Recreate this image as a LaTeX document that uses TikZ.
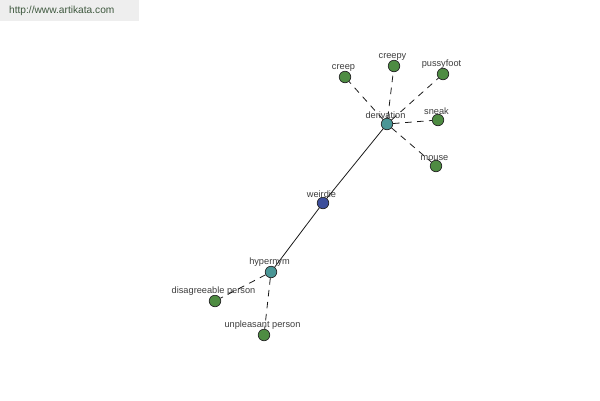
\documentclass[tikz,border=0pt]{standalone}
\usepackage{fontspec}
\setmainfont{Liberation Sans}
\usetikzlibrary{positioning}
\definecolor{leafgreen}{RGB}{78,140,66}
\definecolor{relteal}{RGB}{74,150,150}
\definecolor{rootblue}{RGB}{60,78,155}
\definecolor{labelgray}{RGB}{60,60,60}
\definecolor{headbg}{RGB}{238,238,238}
\definecolor{headtext}{RGB}{62,88,62}
\tikzset{
  wordnode/.style={
    circle, draw=black!85, line width=0.8pt, minimum size=4.6mm, inner sep=0pt,
    label={[font=\fontsize{10.5}{12}\selectfont, text=labelgray, label distance=-1.6mm, xshift=-0.6mm]above:#1}
  },
  rootnode/.style={wordnode=#1, fill=rootblue},
  relnode/.style={wordnode=#1, fill=relteal},
  leafnode/.style={wordnode=#1, fill=leafgreen},
  mainedge/.style={line width=0.9pt, black!90},
  reledge/.style={line width=0.9pt, black!90, dash pattern=on 2.6mm off 2.2mm},
}
\begin{document}
\begin{tikzpicture}[x=0.4mm, y=-0.4mm]
  \useasboundingbox (0,0) rectangle (600,400);

  % ── Header ──
  \fill[headbg] (0,0) rectangle (139,21);
  \node[font=\fontsize{11.6}{13}\selectfont, text=headtext, anchor=west] (site) at (6,11) {http://www.artikata.com};

  % ── Centre word ──
  \node[rootnode={weirdie}] (weirdie) at (323,203) {};

  % ── Relation nodes ──
  \node[relnode={derivation}] (derivation) at (387,124) {};
  \node[relnode={hypernym}]   (hypernym)   at (271,272) {};

  % ── Derivation leaves ──
  \node[leafnode={creep}]     (creep)     at (345,77)  {};
  \node[leafnode={creepy}]    (creepy)    at (394,66)  {};
  \node[leafnode={pussyfoot}] (pussyfoot) at (443,74)  {};
  \node[leafnode={sneak}]     (sneak)     at (438,120) {};
  \node[leafnode={mouse}]     (mouse)     at (436,166) {};

  % ── Hypernym leaves ──
  \node[leafnode={disagreeable person}] (disagreeable) at (215,301) {};
  \node[leafnode={unpleasant person}]   (unpleasant)   at (264,335) {};

  % ── Connectors ──
  \draw[mainedge] (weirdie) -- (derivation);
  \draw[mainedge] (weirdie) -- (hypernym);
  \foreach \leaf in {creep, creepy, pussyfoot, sneak, mouse}
    \draw[reledge] (derivation) -- (\leaf);
  \foreach \leaf in {disagreeable, unpleasant}
    \draw[reledge] (hypernym) -- (\leaf);

\end{tikzpicture}
\end{document}
